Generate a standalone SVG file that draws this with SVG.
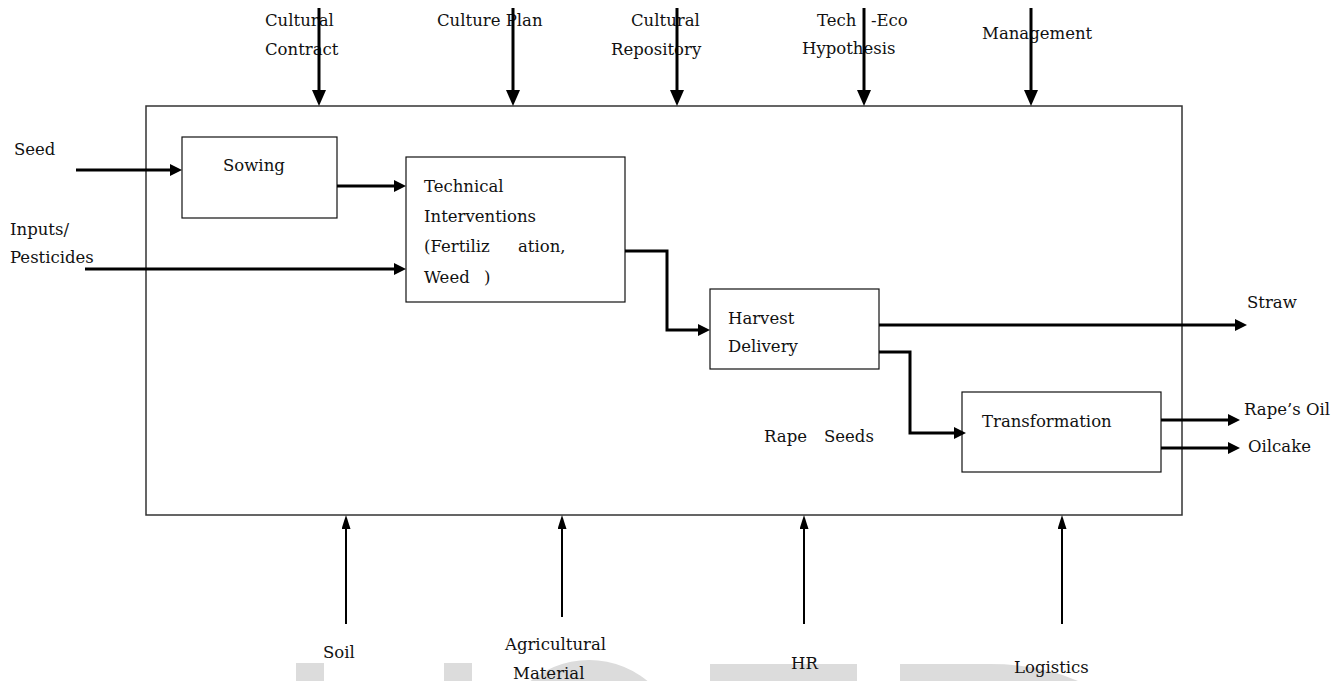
<svg xmlns="http://www.w3.org/2000/svg" width="1341" height="681" viewBox="0 0 1341 681">
<style>
text{font-family:"DejaVu Serif","Liberation Serif",serif;font-size:16.5px;fill:#111}
.box{fill:none;stroke:#111;stroke-width:1.2}
.frame{fill:none;stroke:#333;stroke-width:1.5}
.a3{fill:none;stroke:#000;stroke-width:3}
.a2{fill:none;stroke:#000;stroke-width:2}
.wm{fill:#dcdcdc}
</style>
<defs>
<marker id="hTop" markerUnits="userSpaceOnUse" markerWidth="17" markerHeight="14" refX="0" refY="7" orient="auto"><path d="M0,0 L16,7 L0,14 z" fill="#000"/></marker>
<marker id="hMid" markerUnits="userSpaceOnUse" markerWidth="13" markerHeight="12" refX="0" refY="6" orient="auto"><path d="M0,0 L12,6 L0,12 z" fill="#000"/></marker>
<marker id="hBot" markerUnits="userSpaceOnUse" markerWidth="15" markerHeight="9" refX="0" refY="4.5" orient="auto"><path d="M0,0 L14,4.5 L0,9 z" fill="#000"/></marker>
</defs>
<g id="watermark">
<rect class="wm" x="296" y="663" width="28" height="18"/>
<rect class="wm" x="444" y="663" width="28" height="18"/>
<circle class="wm" cx="589" cy="752" r="92"/>
<rect class="wm" x="710" y="664" width="147" height="17"/>
<path class="wm" d="M900,681 V664 H990 Q1040,664 1078,681 Z"/>
</g>
<g id="system">
<rect class="frame" x="146" y="106" width="1036" height="409"/>
</g>
<g id="sowing">
<rect class="box" x="182" y="137" width="155" height="81"/>
<text x="223" y="171">Sowing</text>
</g>
<g id="technical">
<rect class="box" x="406" y="157" width="219" height="145"/>
<text x="424" y="192">Technical</text>
<text x="424" y="222">Interventions</text>
<text x="424" y="252">(Fertiliz<tspan x="518">ation,</tspan></text>
<text x="424" y="283">Weed<tspan x="484">)</tspan></text>
</g>
<g id="harvest">
<rect class="box" x="710" y="289" width="169" height="80"/>
<text x="728" y="324">Harvest</text>
<text x="728" y="352">Delivery</text>
</g>
<g id="transformation">
<rect class="box" x="962" y="392" width="199" height="80"/>
<text x="982" y="427">Transformation</text>
</g>
<g id="labels">
<text x="265" y="26">Cultural</text>
<text x="265" y="55">Contract</text>
<text x="437" y="26">Culture Plan</text>
<text x="631" y="26">Cultural</text>
<text x="611" y="55">Repository</text>
<text x="817" y="26">Tech<tspan x="871">-Eco</tspan></text>
<text x="802" y="54">Hypothesis</text>
<text x="982" y="39">Management</text>
<text x="14" y="155">Seed</text>
<text x="10" y="235">Inputs/</text>
<text x="10" y="263">Pesticides</text>
<text x="1247" y="308">Straw</text>
<text x="764" y="442">Rape<tspan x="824">Seeds</tspan></text>
<text x="1244" y="415">Rape’s Oil</text>
<text x="1248" y="452">Oilcake</text>
<text x="323" y="658">Soil</text>
<text x="505" y="650">Agricultural</text>
<text x="513" y="679">Material</text>
<text x="791" y="669">HR</text>
<text x="1014" y="673">Logistics</text>
</g>
<g id="connectors">
<path class="a3" d="M319,8 V90" marker-end="url(#hTop)"/>
<path class="a3" d="M513,8 V90" marker-end="url(#hTop)"/>
<path class="a3" d="M677,8 V90" marker-end="url(#hTop)"/>
<path class="a3" d="M864,8 V90" marker-end="url(#hTop)"/>
<path class="a3" d="M1031,8 V90" marker-end="url(#hTop)"/>
<path class="a3" d="M76,170 H170" marker-end="url(#hMid)"/>
<path class="a3" d="M337,186 H394" marker-end="url(#hMid)"/>
<path class="a3" d="M85,269 H394" marker-end="url(#hMid)"/>
<path class="a3" d="M625,251 H667 V330 H698" marker-end="url(#hMid)"/>
<path class="a3" d="M879,325 H1235" marker-end="url(#hMid)"/>
<path class="a3" d="M879,352 H910 V433 H954" marker-end="url(#hMid)"/>
<path class="a3" d="M1161,420 H1228" marker-end="url(#hMid)"/>
<path class="a3" d="M1161,448 H1228" marker-end="url(#hMid)"/>
<path class="a2" d="M346,624 V529" marker-end="url(#hBot)"/>
<path class="a2" d="M562,617 V529" marker-end="url(#hBot)"/>
<path class="a2" d="M804,624 V529" marker-end="url(#hBot)"/>
<path class="a2" d="M1062,624 V529" marker-end="url(#hBot)"/>
</g>
</svg>
